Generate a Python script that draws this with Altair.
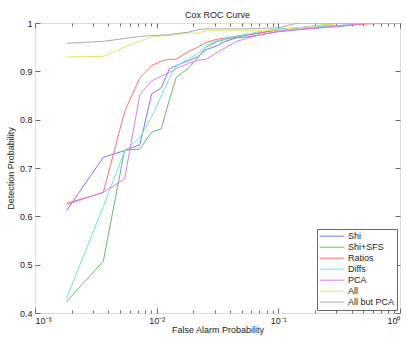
import altair as alt
import pandas as pd

# False alarm probability grid (shared by all curves)
false_alarm = [0.00182, 0.00364, 0.00545, 0.00727, 0.00909, 0.0109, 0.0127, 0.0145,
               0.0182, 0.0218, 0.0255, 0.0309, 0.0364, 0.0455, 0.0582, 0.0727,
               0.1, 0.145, 0.218, 0.327, 0.545, 1.0]

series_names = ["Shi", "Shi+SFS", "Ratios", "Diffs", "PCA", "All", "All but PCA"]
series_colors = ["#7878ff", "#66bb66", "#ff6e6e", "#6ee4e4", "#e07ae8", "#e4e474", "#ababab"]

shi = [0.612, 0.722, 0.736, 0.748, 0.853, 0.866, 0.905, 0.912, 0.922, 0.930, 0.945,
       0.952, 0.962, 0.969, 0.972, 0.976, 0.982, 0.986, 0.990, 0.993, 1.0, 1.0]
shi_sfs = [0.424, 0.507, 0.737, 0.739, 0.774, 0.781, 0.840, 0.888, 0.906, 0.928, 0.950,
           0.961, 0.966, 0.971, 0.976, 0.980, 0.986, 0.990, 0.995, 1.0, 1.0, 1.0]
ratios = [0.627, 0.649, 0.817, 0.886, 0.912, 0.921, 0.925, 0.925, 0.941, 0.950, 0.960,
          0.966, 0.969, 0.973, 0.976, 0.980, 0.986, 0.990, 0.993, 0.995, 0.998, 1.0]
diffs = [0.431, 0.620, 0.735, 0.763, 0.805, 0.850, 0.885, 0.910, 0.926, 0.936, 0.955,
         0.963, 0.967, 0.973, 0.978, 0.983, 0.988, 0.990, 0.993, 0.995, 1.0, 1.0]
pca = [0.624, 0.650, 0.677, 0.852, 0.880, 0.890, 0.897, 0.906, 0.916, 0.923, 0.925,
       0.938, 0.948, 0.962, 0.970, 0.976, 0.983, 0.987, 0.990, 0.994, 1.0, 1.0]
all_feat = [0.930, 0.931, 0.950, 0.962, 0.971, 0.973, 0.974, 0.976, 0.979, 0.979, 0.984,
            0.984, 0.984, 0.984, 0.984, 0.984, 0.986, 0.990, 0.995, 1.0, 1.0, 1.0]
all_but_pca = [0.958, 0.962, 0.968, 0.972, 0.974, 0.975, 0.976, 0.978, 0.981, 0.986, 0.988,
               0.988, 0.988, 0.988, 0.988, 0.989, 0.990, 1.0, 1.0, 1.0, 1.0, 1.0]

series_values = [shi, shi_sfs, ratios, diffs, pca, all_feat, all_but_pca]

x_major = [0.001, 0.01, 0.1, 1]
x_major_labels = ["10⁻³", "10⁻²", "10⁻¹", "10⁰"]
x_minor = [0.002, 0.003, 0.004, 0.005, 0.006, 0.007, 0.008, 0.009,
           0.02, 0.03, 0.04, 0.05, 0.06, 0.07, 0.08, 0.09,
           0.2, 0.3, 0.4, 0.5, 0.6, 0.7, 0.8, 0.9]
y_ticks = [0.4, 0.5, 0.6, 0.7, 0.8, 0.9, 1.0]

rows = []
for name, vals in zip(series_names, series_values):
    for fa, pdv in zip(false_alarm, vals):
        rows.append({"series": name, "fa": fa, "pd": pdv})
df = pd.DataFrame(rows)

FONT = "Liberation Sans"
FRAME = "#6a6a6a"
TXT = "#222222"

label_expr = " : ".join(
    f"datum.value < {v * 1.5} ? '{lab}'" for v, lab in zip(x_major[:-1], x_major_labels[:-1])
) + f" : '{x_major_labels[-1]}'"

xscale = alt.Scale(type="log", domain=[0.001, 1], nice=False)
yscale = alt.Scale(domain=[0.4, 1.0], nice=False, zero=False)

base = alt.Chart(df)

lines = base.mark_line(strokeWidth=1, clip=True).encode(
    x=alt.X("fa:Q", scale=xscale, axis=alt.Axis(
        orient="bottom", values=x_major, labelExpr=label_expr, title="False Alarm Probability",
        tickSize=5, offset=-5, domain=False, grid=False, tickColor=FRAME,
        labelPadding=3, labelFontSize=9, labelFont=FONT, labelColor=TXT,
        titleFont=FONT, titleFontSize=9, titleFontWeight="normal", titleColor=TXT, titlePadding=0)),
    y=alt.Y("pd:Q", scale=yscale, axis=alt.Axis(
        orient="left", values=y_ticks, format=".1~f", title="Detection Probability",
        tickSize=5, offset=-5, domain=False, grid=False, tickColor=FRAME,
        labelPadding=3, labelFontSize=9, labelFont=FONT, labelColor=TXT,
        titleFont=FONT, titleFontSize=9, titleFontWeight="normal", titleColor=TXT, titlePadding=4)),
    color=alt.Color("series:N", scale=alt.Scale(domain=series_names, range=series_colors),
                    sort=series_names,
                    legend=alt.Legend(
                        title=None, orient="bottom-right", offset=3, symbolType="stroke",
                        symbolSize=620, symbolStrokeWidth=1, clipHeight=10.4, rowPadding=0,
                        labelFontSize=9, labelFont=FONT, labelColor=TXT, labelOffset=3,
                        padding=2, strokeColor=FRAME, fillColor="white", cornerRadius=0)),
)

hidden = base.mark_point(opacity=0, size=1)

minor_bottom = hidden.encode(
    x=alt.X("fa:Q", scale=xscale, axis=alt.Axis(
        orient="bottom", values=x_minor, labels=False, title=None, tickSize=3, offset=-3,
        domain=False, grid=False, tickColor=FRAME)),
    y=alt.Y("pd:Q", scale=yscale, axis=None),
)

major_top = hidden.encode(
    x=alt.X("fa:Q", scale=xscale, axis=alt.Axis(
        orient="top", values=x_major, labels=False, title=None, tickSize=5, offset=-5,
        domain=False, grid=False, tickColor=FRAME)),
    y=alt.Y("pd:Q", scale=yscale, axis=alt.Axis(
        orient="right", values=y_ticks, labels=False, title=None, tickSize=5, offset=-5,
        domain=False, grid=False, tickColor=FRAME)),
)

minor_top = hidden.encode(
    x=alt.X("fa:Q", scale=xscale, axis=alt.Axis(
        orient="top", values=x_minor, labels=False, title=None, tickSize=3, offset=-3,
        domain=False, grid=False, tickColor=FRAME)),
    y=alt.Y("pd:Q", scale=yscale, axis=None),
)

chart = alt.layer(lines, minor_bottom, major_top, minor_top).resolve_axis(
    x="independent", y="independent"
).properties(
    width=365, height=290,
    title=alt.TitleParams("Cox ROC Curve", fontSize=9, fontWeight="normal", font=FONT,
                          color=TXT, offset=3, dy=4),
    autosize=alt.AutoSizeParams(type="none"),
    padding={"left": 35, "top": 23, "right": 6, "bottom": 24},
).configure_view(stroke=FRAME, strokeWidth=1).configure(background="white")

chart.save("out.html", embed_options={"renderer": "svg", "actions": False})
